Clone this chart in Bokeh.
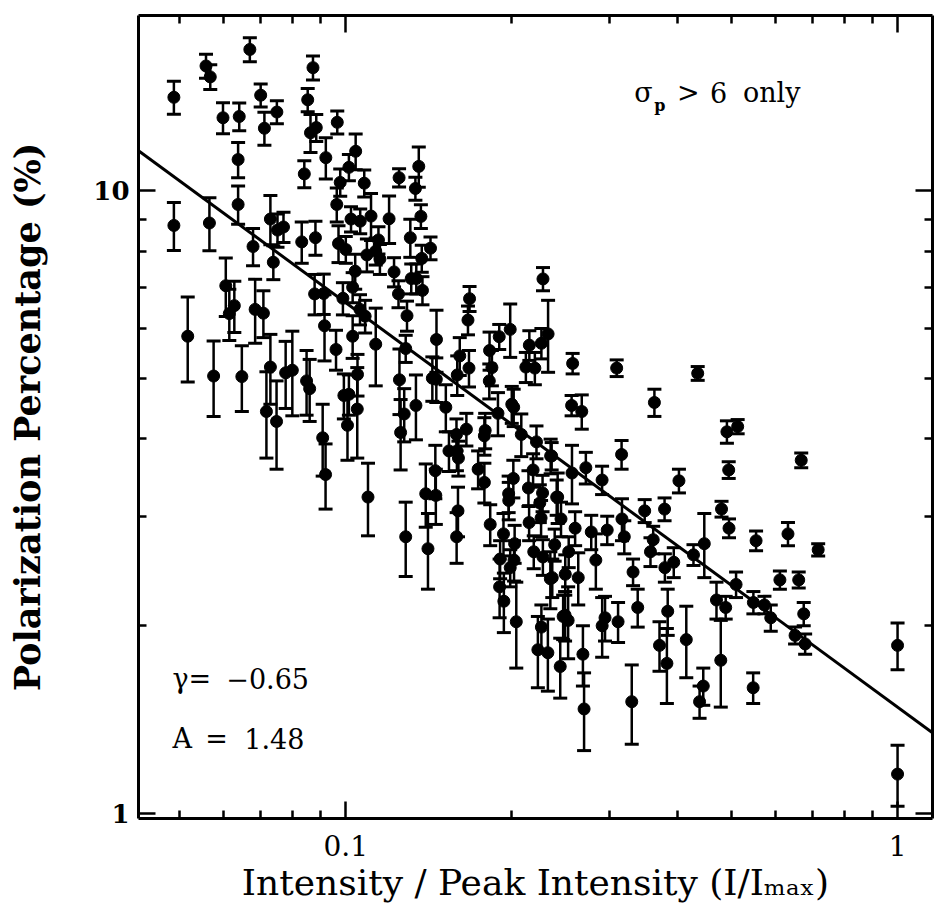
import numpy as np
from bokeh.plotting import figure
from bokeh.models import (LogAxis, FixedTicker, Label, Range1d,
                          CustomJSTickFormatter, CustomLabelingPolicy,
                          ColumnDataSource)
from bokeh.embed import file_html
from bokeh.resources import INLINE

# I / I_max
intensity = [
    0.0488, 0.0558, 0.0568, 0.0670, 0.0701, 0.0712, 0.0750, 0.0599, 0.0641, 0.0638,
    0.0841, 0.0853, 0.0872, 0.0863, 0.0884, 0.0920, 0.0965, 0.0977, 0.0488, 0.0566,
    0.0638, 0.0679, 0.0730, 0.0752, 0.0771, 0.0739, 0.0832, 0.0881, 0.0963, 0.0970,
    0.0517, 0.0576, 0.0648, 0.0606, 0.0628, 0.0615, 0.0685, 0.0709, 0.0730, 0.0718,
    0.0749, 0.0778, 0.0800, 0.0849, 0.0860, 0.0878, 0.0912, 0.0915, 0.0960, 0.0908,
    0.0919, 0.0992, 0.1007, 0.0988, 0.1042, 0.1013, 0.1080, 0.1022, 0.1062, 0.1111,
    0.1198, 0.1249, 0.1356, 0.1337, 0.1368, 0.1309, 0.1424, 0.1373, 0.1000, 0.1146,
    0.1133, 0.1153, 0.1092, 0.1040, 0.1223, 0.1314, 0.1342, 0.2277, 0.1676, 0.1665,
    0.1029, 0.1061, 0.1084, 0.1246, 0.1377, 0.1291, 0.1029, 0.1133, 0.1284, 0.1460,
    0.1986, 0.1897, 0.1609, 0.1672, 0.1822, 0.1840, 0.1820, 0.2151, 0.2120, 0.2201,
    0.2262, 0.2326, 0.1251, 0.1435, 0.1459, 0.1050, 0.1013, 0.1049, 0.1592, 0.1276,
    0.1257, 0.1340, 0.1518, 0.1654, 0.1587, 0.1887, 0.1999, 0.2015, 0.1789, 0.1783,
    0.2080, 0.2216, 0.2351, 0.1538, 0.1590, 0.1600, 0.1737, 0.1453, 0.1783, 0.2012,
    0.2185, 0.1396, 0.1456, 0.1097, 0.1973, 0.1974, 0.2143, 0.2273, 0.2411, 0.2247,
    0.1597, 0.1827, 0.1931, 0.2149, 0.2259, 0.1284, 0.1409, 0.1588, 0.2023, 0.2391,
    0.1904, 0.2018, 0.1986, 0.1900, 0.1934, 0.2037, 0.2191, 0.2276, 0.2348, 0.2262,
    0.2229, 0.2324, 0.2447, 0.2477, 0.2535, 0.2499, 0.2367, 0.2638, 0.2839, 0.2497,
    0.2529, 0.2690, 0.2703, 0.2915, 0.2950, 0.3115, 0.3298, 0.3316, 0.3381, 0.3197,
    0.3166, 0.3566, 0.3607, 0.3787, 0.3930, 0.3832, 0.3703, 0.3819, 0.4141, 0.4445,
    0.4377, 0.4267, 0.4464, 0.4697, 0.4881, 0.4782, 0.5097, 0.5474, 0.5479, 0.5738,
    0.5891, 0.5541, 0.2577, 0.3097, 0.4343, 0.2566, 0.2677, 0.3625, 0.4906, 0.5131,
    0.4943, 0.3161, 0.2361, 0.2570, 0.2723, 0.2914, 0.4016, 0.2421, 0.2455, 0.2604,
    0.2785, 0.2977, 0.3481, 0.3782, 0.4797, 0.4949, 0.669, 0.633, 0.718, 0.612,
    0.662, 0.676, 0.652, 0.680, 1.00, 1.00,
]

# polarization percentage (%)
polarization = [
    14.14, 15.88, 15.25, 16.88, 14.25, 12.61, 13.39, 13.11, 13.17, 11.23,
    10.65, 14.01, 15.78, 12.40, 12.64, 11.31, 12.89, 10.32, 8.80, 8.88,
    9.51, 8.14, 9.01, 8.65, 8.75, 7.68, 8.28, 8.41, 9.51, 8.23,
    5.84, 5.04, 5.03, 7.04, 6.54, 6.35, 6.45, 6.36, 5.21, 4.42,
    4.26, 5.10, 5.15, 4.95, 4.81, 6.83, 6.84, 6.07, 5.56, 4.01,
    3.50, 4.69, 4.20, 6.72, 11.58, 10.91, 10.29, 9.01, 8.94, 9.11,
    9.02, 10.50, 10.95, 10.09, 9.10, 8.41, 8.09, 7.79, 8.05, 8.34,
    8.00, 7.77, 7.89, 7.43, 7.41, 7.23, 7.23, 7.22, 6.71, 6.20,
    7.00, 6.45, 6.29, 6.83, 6.92, 6.30, 5.84, 5.67, 5.58, 5.77,
    5.99, 5.83, 5.43, 5.19, 5.54, 5.20, 4.95, 5.65, 5.21, 5.19,
    5.69, 5.89, 4.97, 5.00, 4.98, 5.07, 4.71, 4.46, 5.06, 4.38,
    4.09, 4.52, 4.49, 4.14, 4.06, 4.39, 4.54, 4.49, 4.12, 4.04,
    4.06, 3.95, 3.75, 3.82, 3.82, 3.72, 3.57, 3.55, 3.40, 3.45,
    3.56, 3.26, 3.24, 3.22, 3.26, 3.18, 3.33, 3.27, 3.22, 3.15,
    3.06, 2.91, 2.81, 2.93, 2.98, 2.78, 2.66, 2.78, 2.71, 2.70,
    2.56, 2.55, 2.48, 2.31, 2.19, 2.03, 2.63, 2.58, 2.38, 1.99,
    1.83, 1.81, 1.72, 2.07, 2.63, 2.42, 2.39, 2.39, 2.55, 2.08,
    2.04, 1.80, 1.47, 2.00, 2.06, 2.03, 1.51, 2.44, 2.14, 2.78,
    2.97, 2.63, 2.75, 2.48, 2.53, 2.11, 1.86, 1.74, 1.90, 1.60,
    1.51, 2.60, 2.71, 2.20, 2.14, 1.76, 2.33, 1.59, 2.18, 2.16,
    2.06, 2.74, 5.28, 5.19, 5.09, 4.52, 4.42, 4.57, 4.10, 4.18,
    3.56, 3.77, 3.75, 3.52, 3.59, 3.43, 3.42, 3.22, 2.97, 2.87,
    2.83, 2.85, 3.06, 3.08, 3.08, 2.87, 3.69, 2.81, 2.65, 2.37,
    2.37, 2.09, 1.93, 1.87, 1.86, 1.155,
]

# 1-sigma error of the polarization (%)
pol_error = [
    0.86, 0.70, 0.70, 0.75, 0.61, 0.77, 0.57, 0.75, 0.68, 0.73,
    0.53, 0.60, 0.70, 0.87, 0.63, 0.86, 0.55, 0.52, 0.78, 0.87,
    0.67, 0.56, 0.82, 0.53, 0.49, 0.48, 0.63, 0.53, 0.60, 0.56,
    0.91, 0.70, 0.61, 0.76, 0.62, 0.60, 0.76, 0.55, 0.67, 0.70,
    0.69, 0.63, 0.80, 0.59, 0.55, 0.51, 0.51, 0.74, 0.41, 0.53,
    0.42, 0.39, 0.51, 0.40, 0.77, 0.53, 0.51, 0.42, 0.41, 0.79,
    0.79, 0.35, 0.81, 0.43, 0.40, 0.59, 0.34, 0.39, 0.40, 0.42,
    0.40, 0.43, 0.48, 0.48, 0.40, 0.40, 0.40, 0.31, 0.31, 0.33,
    0.39, 0.36, 0.38, 0.34, 0.36, 0.35, 0.46, 0.81, 0.28, 0.66,
    0.59, 0.27, 0.38, 0.35, 0.39, 0.34, 0.32, 0.31, 0.29, 0.31,
    0.32, 0.78, 0.60, 0.41, 0.41, 0.39, 0.35, 0.74, 0.37, 0.43,
    0.53, 0.54, 0.39, 0.25, 0.24, 0.35, 0.31, 0.31, 0.27, 0.28,
    0.32, 0.24, 0.24, 0.28, 0.27, 0.24, 0.25, 0.35, 0.25, 0.24,
    0.22, 0.38, 0.33, 0.43, 0.22, 0.22, 0.22, 0.22, 0.21, 0.22,
    0.28, 0.22, 0.22, 0.19, 0.20, 0.38, 0.37, 0.26, 0.19, 0.16,
    0.18, 0.19, 0.17, 0.25, 0.24, 0.32, 0.16, 0.17, 0.25, 0.17,
    0.24, 0.24, 0.19, 0.17, 0.15, 0.18, 0.17, 0.23, 0.26, 0.19,
    0.27, 0.20, 0.21, 0.22, 0.17, 0.15, 0.22, 0.12, 0.15, 0.17,
    0.23, 0.14, 0.14, 0.13, 0.14, 0.18, 0.17, 0.24, 0.25, 0.11,
    0.09, 0.10, 0.32, 0.15, 0.09, 0.28, 0.11, 0.09, 0.09, 0.07,
    0.10, 0.10, 0.20, 0.16, 0.13, 0.17, 0.28, 0.23, 0.17, 0.11,
    0.11, 0.20, 0.19, 0.38, 0.21, 0.18, 0.15, 0.30, 0.19, 0.18,
    0.18, 0.15, 0.13, 0.13, 0.09, 0.10, 0.10, 0.12, 0.06, 0.08,
    0.07, 0.09, 0.06, 0.07, 0.16, 0.13,
]

# power-law fit  P = A * (I/Imax)^gamma
gamma = -0.65
A = 1.48
fit_x = [0.0421, 1.157]

x_major = [0.1, 1.0]
x_minor = [0.05, 0.06, 0.07, 0.08, 0.09, 0.2, 0.3, 0.4, 0.5, 0.6, 0.7, 0.8, 0.9]
y_major = [1, 10]
y_minor = [2, 3, 4, 5, 6, 7, 8, 9]

x = np.array(intensity)
y = np.array(polarization)
e = np.array(pol_error)
src = ColumnDataSource(dict(x=x, y=y, lo=y - e, hi=y + e))
fx = np.array(fit_x)
fy = A * fx ** gamma

SERIF = "DejaVu Serif"

p = figure(width=946, height=912, x_axis_type="log", y_axis_type="log",
           x_range=Range1d(0.0421, 1.157), y_range=Range1d(0.98, 19.14),
           output_backend="svg", toolbar_location=None,
           min_border_left=138, min_border_right=12,
           min_border_top=15, min_border_bottom=94,
           background_fill_color="white", border_fill_color="white")
p.xgrid.visible = False
p.ygrid.visible = False
p.outline_line_color = None

bottom = p.below[0]
left = p.left[0]
top = LogAxis()
right = LogAxis()
p.add_layout(top, "above")
p.add_layout(right, "right")

for ax in (bottom, top):
    ax.ticker = FixedTicker(ticks=x_major, minor_ticks=x_minor)
for ax in (left, right):
    ax.ticker = FixedTicker(ticks=y_major, minor_ticks=y_minor)
for ax in (bottom, left, top, right):
    ax.major_tick_in = 17
    ax.major_tick_out = 0
    ax.minor_tick_in = 8
    ax.minor_tick_out = 0
    ax.axis_line_width = 3
    ax.axis_line_color = "black"
    ax.major_tick_line_width = 2.5
    ax.minor_tick_line_width = 2.5
    ax.major_tick_line_color = "black"
    ax.minor_tick_line_color = "black"
    ax.formatter = CustomJSTickFormatter(code="return String(tick);")
for ax in (top, right):
    ax.major_label_policy = CustomLabelingPolicy(
        code="for (const i of indices) indices.unset(i)")
    ax.major_label_standoff = 0
    ax.major_label_text_font_size = "10px"

bottom.major_label_text_font = SERIF
bottom.major_label_text_font_size = "28px"
bottom.major_label_text_color = "black"
bottom.major_label_standoff = 16
bottom.axis_label = "Intensity / Peak Intensity (I/I\u2098\u2090\u2093)"
bottom.axis_label_text_font = SERIF
bottom.axis_label_text_font_size = "36px"
bottom.axis_label_text_font_style = "normal"
bottom.axis_label_text_color = "black"
bottom.axis_label_standoff = 3

left.major_label_text_font = SERIF
left.major_label_text_font_size = "26px"
left.major_label_text_font_style = "bold"
left.major_label_text_color = "black"
left.major_label_standoff = 9
left.axis_label = "Polarization Percentage (%)"
left.axis_label_text_font = SERIF
left.axis_label_text_font_size = "35px"
left.axis_label_text_font_style = "bold"
left.axis_label_text_color = "black"
left.axis_label_standoff = 42

# fit line
p.line(fx, fy, line_width=3, line_color="black")

# error bars, caps, points
p.segment(x0="x", y0="lo", x1="x", y1="hi", source=src,
          line_width=2.5, line_color="black")
p.scatter(x="x", y="lo", source=src, marker="dash", size=14,
          line_width=3, line_color="black")
p.scatter(x="x", y="hi", source=src, marker="dash", size=14,
          line_width=3, line_color="black")
p.scatter(x="x", y="y", source=src, marker="circle", size=12,
          fill_color="black", line_color="black")

def lab(xv, yv, txt, size="27px", style="normal"):
    p.add_layout(Label(x=xv, y=yv, text=txt, text_font=SERIF,
                       text_font_size=size, text_font_style=style,
                       text_baseline="middle", text_align="left",
                       text_color="black"))

lab(0.3332, 14.39, "\u03c3")
lab(0.3622, 13.72, "p", size="16px", style="bold")
lab(0.3985, 14.39, ">")
lab(0.4572, 14.39, "6")
lab(0.5244, 14.39, "only")
lab(0.04850, 1.645, "\u03b3=")
lab(0.06073, 1.645, "\u22120.65")
lab(0.04850, 1.317, "A")
lab(0.05563, 1.317, "=")
lab(0.06546, 1.317, "1.48")

open("out.html", "w").write(file_html(p, INLINE))
